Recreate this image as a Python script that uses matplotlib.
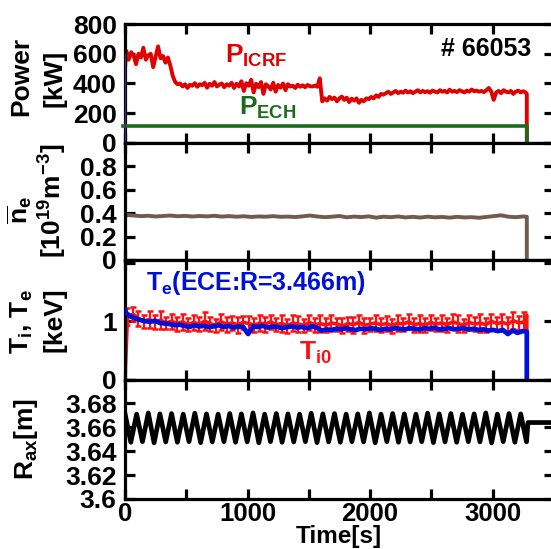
import numpy as np
import matplotlib
matplotlib.use('Agg')
import matplotlib.pyplot as plt
from matplotlib.ticker import MultipleLocator, FuncFormatter

plt.rcParams['font.family'] = ['Liberation Sans', 'DejaVu Sans']
plt.rcParams['font.weight'] = 'bold'
plt.rcParams['mathtext.fontset'] = 'custom'
plt.rcParams['mathtext.rm'] = 'Liberation Sans:bold'
plt.rcParams['mathtext.it'] = 'Liberation Sans:bold'
plt.rcParams['mathtext.bf'] = 'Liberation Sans:bold'
plt.rcParams['mathtext.sf'] = 'Liberation Sans:bold'
plt.rcParams['axes.unicode_minus'] = True

# ---------------- data ----------------
shot_label = "# 66053"
t_end = 3280

# P_ICRF [kW], sampled every 20 s from t=10 s
p_icrf = [620, 560, 610, 590, 530, 600, 575, 640, 560, 590, 600, 510, 580, 650, 570, 585, 540, 575,
          520, 450, 410, 395,
          400, 380, 395, 370, 392, 385, 402, 378, 395, 388, 405, 372, 398, 385, 410, 380, 392, 400, 375, 395,
          385, 405, 370, 398, 380, 415, 350, 402, 385, 425, 340, 398, 375, 410, 330, 395, 380, 360, 405, 345,
          390, 372, 400, 355, 395, 380, 385, 370, 392, 378, 388, 375, 390, 382, 380, 386, 378,
          435, 280,
          300, 285, 310, 295, 305, 280, 300, 312, 290, 305, 275, 298, 285, 300, 270, 290, 280, 300, 295, 310,
          300, 320, 310, 330, 325,
          335, 345, 330, 340, 350, 335, 345, 338, 352, 340, 348, 335, 345, 355, 340, 350, 342, 348, 338, 352,
          345, 340, 355, 345, 350, 340, 358, 345, 350, 342, 355, 348, 340, 352, 345, 360, 348, 352, 345, 350,
          342, 355, 370, 345, 290, 340, 350, 335, 355, 345, 340, 350, 330, 345, 352, 340, 348, 340]
p_icrf_t0 = 10
p_icrf_dt = 20

# P_ECH [kW]
t_ech = [-15, 3280, 3280]
p_ech = [115, 115, 0]

# auxiliary trace at t=0
t_aux = [0, 0]
p_aux = [0, 590]

# line-averaged density [1e19 m^-3], every 60 s from t=10 s
ne = [0.385, 0.38, 0.375, 0.378, 0.372, 0.376, 0.38, 0.374, 0.377, 0.372,
      0.376, 0.373, 0.378, 0.371, 0.375, 0.37, 0.374, 0.368, 0.372, 0.37,
      0.375, 0.369, 0.371, 0.367, 0.373, 0.38, 0.372, 0.366, 0.37, 0.376,
      0.365, 0.371, 0.367, 0.373, 0.362, 0.37, 0.366, 0.372, 0.364, 0.369,
      0.363, 0.37, 0.365, 0.368, 0.362, 0.369, 0.364, 0.366, 0.361, 0.368,
      0.375, 0.382, 0.37, 0.366, 0.372]
ne_t0 = 10
ne_dt = 60

# Te (ECE) [keV], every 40 s from t=5 s
te = [1.15, 1.08, 1.05, 1.02, 1.0, 0.99, 1.01, 0.97, 0.96, 0.95,
      0.93, 0.94, 0.92, 0.9, 0.93, 0.91, 0.92, 0.9, 0.91, 0.93,
      0.9, 0.92, 0.89, 0.91, 0.9, 0.78, 0.91, 0.9, 0.92, 0.89,
      0.91, 0.9, 0.88, 0.9, 0.91, 0.89, 0.9, 0.88, 0.91, 0.89,
      0.84, 0.86, 0.85, 0.87, 0.86, 0.88, 0.86, 0.85, 0.87, 0.86,
      0.88, 0.87, 0.85, 0.87, 0.86, 0.88, 0.87, 0.86, 0.88, 0.87,
      0.86, 0.88, 0.87, 0.89, 0.86, 0.87, 0.88, 0.86, 0.87, 0.88,
      0.86, 0.87, 0.85, 0.86, 0.84, 0.85, 0.83, 0.85, 0.78, 0.84,
      0.8, 0.83]
te_t0 = 5
te_dt = 40

# Ti0 [keV] with error bars, every 45 s from t=20 s
ti = [1.08, 1.12, 1.05, 1.0, 1.03, 0.98, 1.02, 0.97, 1.0,
      0.96, 0.99, 0.94, 0.98, 0.95, 1.0, 0.96, 0.93, 0.99, 0.95,
      0.97, 0.94, 0.98, 0.96, 0.93, 0.97, 0.95, 0.99, 0.94, 0.96,
      0.92, 0.97, 0.95, 0.93, 0.98, 0.94, 0.96, 0.93, 0.97, 0.95,
      0.92, 0.96, 0.94, 0.98, 0.93, 0.95, 0.97, 0.94, 0.96, 0.92,
      0.97, 0.95, 0.99, 0.94, 0.96, 0.93, 0.98, 0.95, 0.97, 0.94,
      0.99, 0.96, 0.93, 0.98, 0.95, 0.97, 0.94, 1.0, 0.96, 0.98,
      0.95, 1.01, 0.97, 0.99]
ti_err = [0.14, 0.12, 0.13, 0.11, 0.14, 0.12, 0.15, 0.11, 0.13,
          0.12, 0.14, 0.11, 0.13, 0.12, 0.15, 0.12, 0.11, 0.14, 0.13,
          0.12, 0.14, 0.11, 0.13, 0.12, 0.14, 0.13, 0.12, 0.11, 0.14,
          0.12, 0.13, 0.14, 0.11, 0.13, 0.12, 0.14, 0.12, 0.13, 0.11,
          0.13, 0.12, 0.14, 0.12, 0.13, 0.11, 0.14, 0.12, 0.13, 0.12,
          0.14, 0.11, 0.13, 0.12, 0.14, 0.12, 0.13, 0.11, 0.14, 0.12,
          0.13, 0.14, 0.11, 0.13, 0.12, 0.15, 0.12, 0.13, 0.11, 0.14,
          0.12, 0.15, 0.12, 0.16]
ti_t0 = 20
ti_dt = 45

# magnetic axis sweep [m]: alternating turning points every 47.5 s
rax_hi = [3.6715, 3.671, 3.672, 3.6712, 3.6715, 3.671, 3.6718, 3.6712, 3.671, 3.6715,
          3.6712, 3.672, 3.671, 3.6715, 3.6712, 3.671, 3.6718, 3.6712, 3.6715, 3.671,
          3.6712, 3.672, 3.671, 3.6715, 3.6712, 3.671, 3.6718, 3.6712, 3.6715, 3.671,
          3.6712, 3.672, 3.671, 3.6715, 3.6712]
rax_lo = [3.6475, 3.648, 3.647, 3.6478, 3.6475, 3.648, 3.6472, 3.6478, 3.648, 3.6475,
          3.6478, 3.647, 3.648, 3.6475, 3.6478, 3.648, 3.6472, 3.6478, 3.6475, 3.648,
          3.6478, 3.647, 3.648, 3.6475, 3.6478, 3.648, 3.6472, 3.6478, 3.6475, 3.648,
          3.6478, 3.647, 3.648, 3.6475, 3.6478]
rax_dt = 47.5
t_rax_tail = [3290, 3600]
rax_tail = [3.664, 3.664]

# ---------------- colours ----------------
c_icrf = '#e00000'
c_ech = '#1b6b1b'
c_ne = '#735a50'
c_te = '#0010d8'
c_ti = '#ff1010'
c_aux = '#5a189a'

# ---------------- figure ----------------
W, H = 551, 549
fig = plt.figure(figsize=(W / 100, H / 100), dpi=100)
x0 = 125 / W
wd = 428.75 / W
bounds = [(24, 143), (143, 260), (260, 379.5), (379.5, 499)]
axes = []
for top, bot in bounds:
    axes.append(fig.add_axes([x0, 1 - bot / H, wd, (bot - top) / H]))
ax1, ax2, ax3, ax4 = axes

FS = 18
TFS = 19
for ax in axes:
    ax.set_xlim(0, 3500)
    ax.xaxis.set_major_locator(MultipleLocator(500))
    for s in ax.spines.values():
        s.set_linewidth(2.3)
    ax.tick_params(direction='in', length=7, width=2.3, top=True, right=True,
                   labelsize=TFS, pad=6)
    ax.tick_params(axis='x', labelbottom=False)
ax4.tick_params(axis='x', labelbottom=True, pad=2, labelsize=18.5)
ax4.xaxis.set_major_formatter(FuncFormatter(lambda v, p: f'{int(v)}' if v % 1000 == 0 else ''))

# panel 1: power
t_icrf = p_icrf_t0 + p_icrf_dt * np.arange(len(p_icrf))
ax1.plot(np.r_[0, t_icrf, t_end, t_end], np.r_[500, p_icrf, 330, 0], color=c_icrf, lw=2.8)
ax1.plot(t_ech, p_ech, color=c_ech, lw=2.6, clip_on=False, zorder=3)
ax1.plot(t_aux, p_aux, color=c_aux, lw=1.5, zorder=4)
ax1.set_ylim(0, 800)
ax1.set_yticks([0, 200, 400, 600, 800])
ax1.text(0.947, 0.79, shot_label, transform=ax1.transAxes, ha='right', va='center',
         fontsize=FS, fontweight='bold')
ax1.text(0.233, 0.672, r'$P_{ICRF}$', transform=ax1.transAxes, ha='left', va='baseline',
         fontsize=FS + 1, color=c_icrf)
ax1.text(0.266, 0.235, r'$P_{ECH}$', transform=ax1.transAxes, ha='left', va='baseline',
         fontsize=FS + 1, color=c_ech)

# panel 2: density
t_ne = ne_t0 + ne_dt * np.arange(len(ne))
ax2.plot(np.r_[0, 0, t_ne, t_end, t_end], np.r_[0, 0.36, ne, 0.37, 0], color=c_ne, lw=2.8)
ax2.set_ylim(0, 1.0)
ax2.set_yticks([0, 0.2, 0.4, 0.6, 0.8, 1.0])
ax2.set_yticklabels(['0', '0.2', '0.4', '0.6', '0.8', ''])

# panel 3: temperatures
t_ti = ti_t0 + ti_dt * np.arange(len(ti))
ax3.plot(np.r_[0, t_ti, t_end, t_end], np.r_[0, ti, 1.1, 0], color=c_ti, lw=2.6, zorder=2)
ax3.errorbar(t_ti, ti, yerr=ti_err, fmt='none', ecolor=c_ti, elinewidth=1.6,
             capsize=2.5, capthick=1.8, zorder=2)
t_te = te_t0 + te_dt * np.arange(len(te))
ax3.plot(np.r_[0, t_te, t_end, t_end], np.r_[1.2, te, 0.82, 0], color=c_te, lw=3.4, zorder=3)
ax3.set_ylim(0, 2.05)
ax3.set_yticks([0, 1, 2])
ax3.set_yticklabels(['0', '1', ''])
ax3.text(0.049, 0.749, r'$T_e$(ECE:R=3.466m)', transform=ax3.transAxes, ha='left',
         va='baseline', fontsize=FS, color=c_te)
ax3.text(0.406, 0.163, r'$T_{i0}$', transform=ax3.transAxes, ha='left', va='baseline',
         fontsize=FS + 1, color=c_ti)

# panel 4: Rax
rax = np.column_stack([rax_hi, rax_lo]).ravel()
t_rax = rax_dt * np.arange(len(rax))
ax4.plot(np.r_[t_rax, t_rax_tail], np.r_[rax, rax_tail], color='black', lw=3.4)
ax4.set_ylim(3.6, 3.7)
ax4.set_yticks([3.6, 3.62, 3.64, 3.66, 3.68, 3.7])
ax4.set_yticklabels(['3.6', '3.62', '3.64', '3.66', '3.68', ''])

# y labels
def ylab(x, y, s):
    fig.text(x / W, 1 - y / H, s, rotation=90, ha='center', va='center',
             fontsize=TFS, fontweight='bold')

ylab(21, 76, 'Power')
ylab(54, 78, '[kW]')
ylab(20, 210, r'$\overline{n}_e$')
ylab(53, 201, r'[10$^{19}$m$^{-3}$]')
ylab(22, 322, r'T$_i$, T$_e$')
ylab(55, 320, '[keV]')
ylab(26, 439, r'R$_{ax}$[m]')

fig.text(339 / W, 1 - 548.5 / H, 'Time[s]', ha='center', va='bottom',
         fontsize=17.5, fontweight='bold')

fig.savefig('out.png', dpi=100)
